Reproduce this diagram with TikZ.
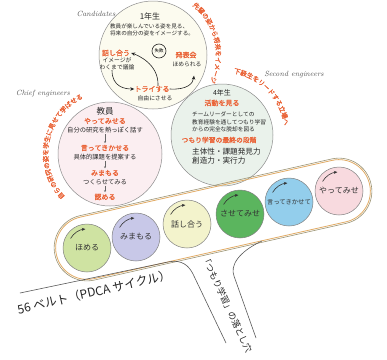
\documentclass[tikz,border=0pt]{standalone}
\usepackage{fontspec}
\newfontfamily\jp{Noto Sans CJK JP}
\newfontfamily\jpb[FakeBold=1.5]{Noto Sans CJK JP}
\usetikzlibrary{arrows.meta,decorations.text,calc}
\definecolor{orng}{HTML}{EA6438}
\definecolor{cfirst}{HTML}{FCFBEF}
\definecolor{cteach}{HTML}{FBEEF1}
\definecolor{cfourth}{HTML}{EAF2EB}
\definecolor{bgreen}{HTML}{CFE3A2}
\definecolor{blav}{HTML}{C8C8E8}
\definecolor{byel}{HTML}{F3F3CC}
\definecolor{bdgreen}{HTML}{5BB55E}
\definecolor{bblue}{HTML}{93CEEC}
\definecolor{bpink}{HTML}{F8DADF}
\definecolor{beltouter}{HTML}{9C9474}
\definecolor{beltinner}{HTML}{E2AC66}
\newcommand\myarcfont{\jpb\fontsize{6.5}{6.5}\selectfont\color{orng}}
\begin{document}
\begin{tikzpicture}[x=1pt,y=-1pt,
  bigcirc/.style={circle,draw=black!45,line width=0.5pt,inner sep=0pt},
  jtext/.style={font=\jp\fontsize{5.8}{6.6}\selectfont,text=black!85,inner sep=0pt},
  olab/.style={font=\jpb\fontsize{7}{7}\selectfont,text=orng,inner sep=0pt},
  eng/.style={font=\itshape\fontsize{7.5}{8}\selectfont,text=black!65,inner sep=0pt},
  ball/.style={circle,draw=black!50,line width=0.5pt,minimum size=48pt,inner sep=0pt,font=\jp\fontsize{8}{8}\selectfont,text=black!80},
  spin/.style={-{Stealth[length=3.5pt,width=3pt]},line width=0.6pt,black!80},
  curv/.style={-{Stealth[length=4pt,width=3.5pt]},line width=0.6pt,black!85},
  down/.style={-{Stealth[length=2pt,width=2pt]},line width=0.4pt,black!60},
  road/.style={line width=0.6pt,black!65},
  arctext/.style={decorate,decoration={text along path,text align=center,text={#1}}}
]
\useasboundingbox (0,0) rectangle (387,359);
\fill[white] (0,0) rectangle (387,359);

% big circles
\node[bigcirc,fill=cfirst,minimum size=108pt] (first) at (153,55) {};
\node[bigcirc,fill=cteach,minimum size=104pt] (teach) at (110,154) {};
\node[bigcirc,fill=cfourth,minimum size=102pt] (fourth) at (222,135) {};

% orange arc texts
\path[arctext={|\myarcfont|先輩の姿から将来をイメージ}]
  ([shift={(-56:63)}]first.center) arc[start angle=-56,end angle=30,radius=63];
\path[arctext={|\myarcfont|自らの研究の姿を学生に見せて学ばせる}]
  ([shift={(-235:62)}]teach.center) arc[start angle=-235,end angle=-104,radius=62];
\path[arctext={|\myarcfont|下級生をリードする立場へ}]
  ([shift={(-80:63)}]fourth.center) arc[start angle=-80,end angle=-8,radius=63];

% role labels
\node[eng] (cand) at (96,14) {Candidates};
\node[eng] (chief) at (43,94) {Chief engineers};
\node[eng] (second) at (294,75) {Second engineers};

% 1st year circle
\node[font=\jp\fontsize{8}{8}\selectfont,text=black!85] (t1) at (150,16) {1年生};
\node[jtext,align=left,font=\jp\fontsize{5.6}{6.4}\selectfont] (t1d) at (152,30) {教員が楽しんでいる姿を見る、\\将来の自分の姿をイメージする。};
\node[circle,draw=black!85,line width=0.6pt,minimum size=14pt,inner sep=0pt,font=\jp\fontsize{4.5}{5}\selectfont] (fail) at (159,51) {失敗};
\node[olab] (hanashi) at (116,53) {話し合う};
\node[jtext,align=center] (ime) at (117,64) {イメージが\\わくまで議論};
\node[olab] (happyo) at (186,55) {発表会};
\node[jtext] (home1) at (187,64) {ほめられる};
\node[olab] (try) at (152,89) {トライする};
\node[jtext] (jiyu) at (155,98) {自由にさせる};
\draw[curv] ([xshift=-5pt]ime.south) .. controls +(0,17) and +(-9,0) .. (try.west);
\draw[curv] (try.east) .. controls +(17,1) and +(-1,8) .. ($(home1.south)+(7,9)$);
\draw[curv] ([xshift=6pt]try.north) .. controls +(1,-22) and +(6,2) .. ([xshift=1pt]hanashi.east);

% teacher circle
\node[font=\jp\fontsize{8.5}{9}\selectfont,text=black!85] (kyo) at (105,111) {教員};
\node[olab] (k1) at (105,121) {やってみせる};
\node[jtext,font=\jp\fontsize{6.3}{7}\selectfont] (k1d) at (105,130) {自分の研究を熱っぽく話す};
\node[olab] (k2) at (105,148) {言ってきかせる};
\node[jtext,font=\jp\fontsize{6.3}{7}\selectfont] (k2d) at (105,157) {具体的課題を提案する};
\node[olab] (k3) at (105,173) {みまもる};
\node[jtext,font=\jp\fontsize{6.3}{7}\selectfont] (k3d) at (105,182) {つくらせてみる};
\node[olab] (k4) at (105,197) {認める};
\draw[down] ([yshift=-1pt]k1d.south) -- ([yshift=1.5pt]k2.north);
\draw[down] ([yshift=-1pt]k2d.south) -- ([yshift=1.5pt]k3.north);
\draw[down] ([yshift=-1pt]k3d.south) -- ([yshift=1.5pt]k4.north);

% 4th year circle
\node[font=\jp\fontsize{7}{7}\selectfont,text=black!85] (t4) at (222,93) {4年生};
\node[olab] (f1) at (222,103) {活動を見る};
\node[jtext,align=left,anchor=west,font=\jp\fontsize{5.7}{7.5}\selectfont] (f1d) at (192,122) {チームリーダーとしての\\教育経験を通してつもり学習\\からの完全な脱却を図る};
\node[olab,font=\jpb\fontsize{6.8}{7}\selectfont] (f2) at (219,140) {つもり学習の最終の段階};
\node[jtext,align=left,anchor=west,font=\jp\fontsize{7.6}{8.5}\selectfont] (f2d) at (192,156) {主体性・課題発見力\\創造力・実行力};

% belt
\node[draw=beltouter,line width=0.6pt,rounded corners=32.9pt,minimum width=324pt,minimum height=66pt,inner sep=0pt,rotate=12.7] (beltout) at (213,219.5) {};
\node[draw=beltinner,line width=0.8pt,rounded corners=31.4pt,minimum width=321pt,minimum height=63pt,inner sep=0pt,rotate=12.7] (beltin) at (213,219.5) {};

\node[ball,fill=bgreen] (b1) at (87,248) {ほめる};
\node[ball,fill=blav] (b2) at (136,237) {みまもる};
\node[ball,fill=byel] (b3) at (187,224) {話し合う};
\node[ball,fill=bdgreen] (b4) at (240,214) {させてみせ};
\node[ball,fill=bblue,font=\jp\fontsize{6.3}{7}\selectfont] (b5) at (289,202) {言ってきかせて};
\node[ball,fill=bpink] (b6) at (339,191) {やってみせ};
\foreach \b in {b1,b2,b3,b4,b5,b6}{
  \draw[spin] ([shift={(-150:19)}]\b.center) arc[start angle=-150,end angle=-95,radius=19];
}

% road lines
\coordinate (l1a) at (20,293);
\coordinate (l1b) at (168,262);
\coordinate (l1c) at (226,343);
\coordinate (l2a) at (262,241);
\coordinate (l2b) at (256,338);
\draw[road] (l1a) -- (l1b) .. controls (182,259) and (189,266) .. (193,274) -- (l1c);
\draw[road] (l2a) .. controls (238,252) and (230,266) .. (234,276) -- (l2b);

\node[font=\jp\fontsize{12}{12}\selectfont,text=black!85,rotate=13] (beltlab) at (94,292) {56 ベルト（PDCA サイクル）};
\node[font=\jp\fontsize{8.8}{9}\selectfont,text=black!85,rotate=-65] (ana) at (227,304) {「つもり学習」の落とし穴};
\end{tikzpicture}
\end{document}
